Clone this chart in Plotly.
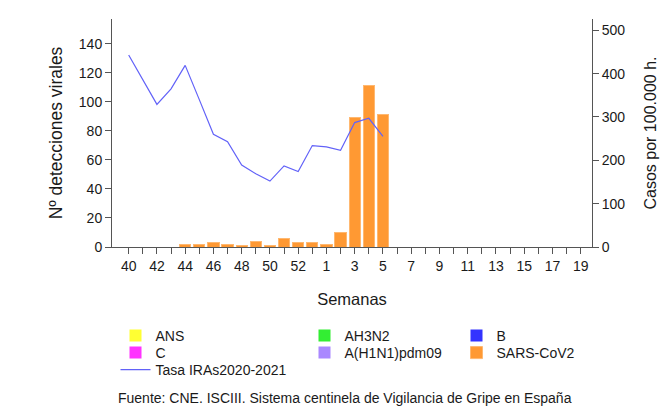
import plotly.graph_objects as go

# ---- data ----
weeks = ["40", "41", "42", "43", "44", "45", "46", "47", "48", "49", "50", "51", "52", "53",
         "1", "2", "3", "4", "5", "6", "7", "8", "9", "10", "11", "12", "13", "14", "15",
         "16", "17", "18", "19"]
labeled_weeks = ["40", "42", "44", "46", "48", "50", "52", "1", "3", "5", "7", "9", "11",
                 "13", "15", "17", "19"]

sars_cov2 = [0, 0, 0, 0, 2, 2, 3, 2, 1, 4, 1, 6, 3, 3, 2, 10, 89, 111, 91]
ans = [0] * 19
ah3n2 = [0] * 19
b_virus = [0] * 19
c_virus = [0] * 19
h1n1 = [0] * 19

tasa_iras = [443, 387, 329, 365, 419, 340, 260, 243, 189, 169, 152, 187, 174, 234,
             231, 223, 287, 297, 255]

font = "Liberation Sans, Arial, sans-serif"
ink = "#1a1a1a"
axis_col = "#555555"

# page offset (default body margin) compensated in layout
OFF = 8
W, H = 672 - OFF, 407 - OFF
L, T = 112 - OFF, 19 - OFF
R = W - (592 - OFF)
B = H - (247 - OFF)
PW, PH = W - L - R, H - T - B


def px_x(x):
    return (x - OFF - L) / PW


def px_y(y):
    return (H - B - (y - OFF)) / PH


fig = go.Figure()

bar_series = [
    ("ANS", ans, "#FFFF33", "legend"),
    ("AH3N2", ah3n2, "#33EE33", "legend2"),
    ("B", b_virus, "#3333FF", "legend3"),
    ("C", c_virus, "#FF33FF", "legend4"),
    ("A(H1N1)pdm09", h1n1, "#AA88FF", "legend5"),
]
for name, vals, col, lg in bar_series:
    fig.add_trace(go.Bar(x=weeks[:len(vals)], y=vals, name=name, marker_color=col,
                         marker_line_width=0, legend=lg, width=0.8, showlegend=True))

fig.add_trace(go.Bar(x=weeks[:len(sars_cov2)], y=sars_cov2, name="SARS-CoV2",
                     marker_color="#FF9933",
                     marker_line=dict(color="#FFB870", width=1), legend="legend6", width=0.8,
                     showlegend=True))

fig.add_trace(go.Scatter(x=weeks[:len(tasa_iras)], y=tasa_iras, name="Tasa IRAs2020-2021",
                         mode="lines", line=dict(color="#6262F8", width=1.2),
                         yaxis="y2", legend="legend7", showlegend=True))

ticktext = [w if w in labeled_weeks else "" for w in weeks]


def leg(xpx, ypx):
    return dict(orientation="v", font=dict(family=font, size=14, color=ink),
                bgcolor="rgba(0,0,0,0)",
                x=px_x(xpx), y=px_y(ypx), xanchor="left", yanchor="middle",
                itemclick=False, itemdoubleclick=False, borderwidth=0, visible=True)


fig.update_layout(
    width=W, height=H,
    showlegend=True,
    margin=dict(l=L, r=R, t=T, b=B, autoexpand=False),
    paper_bgcolor="white", plot_bgcolor="white",
    barmode="stack",
    font=dict(family=font, size=13, color=ink),
    xaxis=dict(
        type="category", categoryorder="array", categoryarray=weeks,
        range=[-1.18, 32.8], automargin=False,
        tickmode="array", tickvals=weeks, ticktext=ticktext,
        ticks="outside", ticklen=6, tickcolor=axis_col, tickwidth=1,
        showline=True, linecolor=axis_col, linewidth=1,
        showgrid=False, zeroline=False,
        tickfont=dict(family=font, size=14, color=ink),
        title=dict(text="Semanas", font=dict(family=font, size=16.5, color=ink), standoff=20),
    ),
    yaxis=dict(
        range=[0, 157], tickvals=[0, 20, 40, 60, 80, 100, 120, 140], automargin=False,
        ticks="outside", ticklen=6, tickcolor=axis_col,
        showline=True, linecolor=axis_col, linewidth=1,
        showgrid=False, zeroline=False,
        tickfont=dict(family=font, size=14, color=ink),
        title=dict(text="Nº detecciones virales", font=dict(family=font, size=17.5, color=ink),
                   standoff=11),
    ),
    yaxis2=dict(
        range=[0, 526], tickvals=[0, 100, 200, 300, 400, 500], automargin=False,
        overlaying="y", side="right",
        ticks="outside", ticklen=6, tickcolor=axis_col,
        showline=True, linecolor=axis_col, linewidth=1,
        showgrid=False, zeroline=False,
        tickfont=dict(family=font, size=14, color=ink),
        title=dict(text="Casos por 100.000 h.", font=dict(family=font, size=16, color=ink),
                   standoff=20),
    ),
    legend=leg(115.5, 336),
    legend2=leg(304.5, 336),
    legend3=leg(456.5, 336),
    legend4=leg(115.5, 353),
    legend5=leg(304.5, 353),
    legend6=leg(456.5, 353),
    legend7=leg(115.5, 370),
    annotations=[dict(
        text="Fuente: CNE. ISCIII. Sistema centinela de Vigilancia de Gripe en España",
        xref="paper", yref="paper", x=px_x(344.5), y=px_y(398),
        xanchor="center", yanchor="middle",
        showarrow=False, font=dict(family=font, size=14, color=ink))],
)

fig.write_html("out.html")
